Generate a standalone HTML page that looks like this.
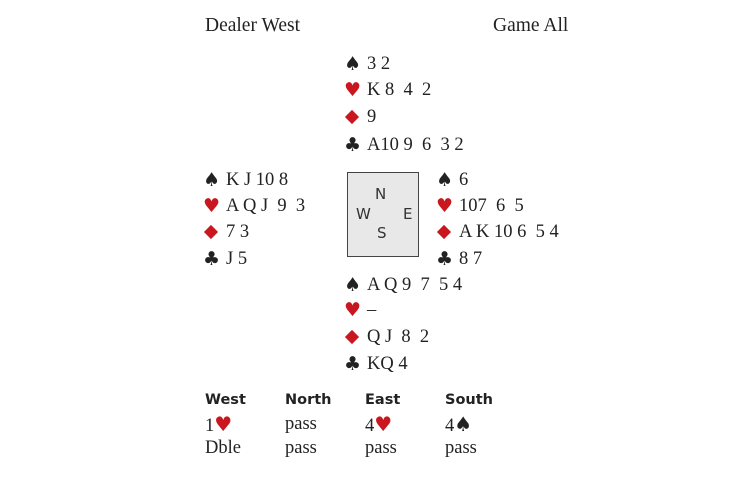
<!DOCTYPE html>
<html><head><style>
body{margin:0;width:730px;height:486px;background:#fff;position:relative;font-family:"Liberation Serif",serif;color:#222;overflow:hidden}
.l{position:absolute;font-size:18.5px;line-height:20px;white-space:pre}
.s{display:inline-block;width:23px;font-family:"DejaVu Sans",sans-serif;font-size:19px;vertical-align:-1px}
.r{color:#c8171e}
.d{display:inline-block;width:23px;position:relative;height:14px;vertical-align:-1px}
.d:before{content:"";position:absolute;left:3px;top:3px;width:10px;height:10px;background:#c8171e;transform:rotate(45deg)}
.b{position:absolute;font-family:"DejaVu Sans",sans-serif;font-weight:bold;font-size:14.5px}
.box{position:absolute;left:347px;top:172px;width:72px;height:85px;background:#e8e8e8;border:1.5px solid #444;box-sizing:border-box;font-family:"DejaVu Sans",sans-serif;font-size:15px;color:#333}
.box span{position:absolute}
</style></head><body>
<div class="l" style="left:205px;top:16px;font-size:19.5px">Dealer West</div>
<div class="l" style="left:493px;top:16px;font-size:19.5px">Game All</div>

<div class="l" style="left:344px;top:54px"><span class="s">♠</span>3 2</div>
<div class="l" style="left:344px;top:80px"><span class="s r">♥</span>K 8  4  2</div>
<div class="l" style="left:344px;top:107px"><span class="d"></span>9</div>
<div class="l" style="left:344px;top:135px"><span class="s">♣</span>A10 9  6  3 2</div>

<div class="l" style="left:203px;top:170px"><span class="s">♠</span>K J 10 8</div>
<div class="l" style="left:203px;top:196px"><span class="s r">♥</span>A Q J  9  3</div>
<div class="l" style="left:203px;top:222px"><span class="d"></span>7 3</div>
<div class="l" style="left:203px;top:249px"><span class="s">♣</span>J 5</div>

<div class="box"><span style="left:27px;top:12px">N</span><span style="left:8px;top:32px">W</span><span style="left:55px;top:32px">E</span><span style="left:29px;top:51px">S</span></div>

<div class="l" style="left:436px;top:170px"><span class="s">♠</span>6</div>
<div class="l" style="left:436px;top:196px"><span class="s r">♥</span>107  6  5</div>
<div class="l" style="left:436px;top:222px"><span class="d"></span>A K 10 6  5 4</div>
<div class="l" style="left:436px;top:249px"><span class="s">♣</span>8 7</div>

<div class="l" style="left:344px;top:275px"><span class="s">♠</span>A Q 9  7  5 4</div>
<div class="l" style="left:344px;top:300px"><span class="s r">♥</span>–</div>
<div class="l" style="left:344px;top:327px"><span class="d"></span>Q J  8  2</div>
<div class="l" style="left:344px;top:354px"><span class="s">♣</span>KQ 4</div>

<div class="b" style="left:205px;top:392px">West</div>
<div class="b" style="left:285px;top:392px">North</div>
<div class="b" style="left:365px;top:392px">East</div>
<div class="b" style="left:445px;top:392px">South</div>
<div class="l" style="left:205px;top:414px">1<span class="r" style="font-family:'DejaVu Sans';font-size:20px">♥</span></div>
<div class="l" style="left:285px;top:414px">pass</div>
<div class="l" style="left:365px;top:414px">4<span class="r" style="font-family:'DejaVu Sans';font-size:20px">♥</span></div>
<div class="l" style="left:445px;top:414px">4<span style="font-family:'DejaVu Sans';font-size:20px">♠</span></div>
<div class="l" style="left:205px;top:438px">Dble</div>
<div class="l" style="left:285px;top:438px">pass</div>
<div class="l" style="left:365px;top:438px">pass</div>
<div class="l" style="left:445px;top:438px">pass</div>
</body></html>
